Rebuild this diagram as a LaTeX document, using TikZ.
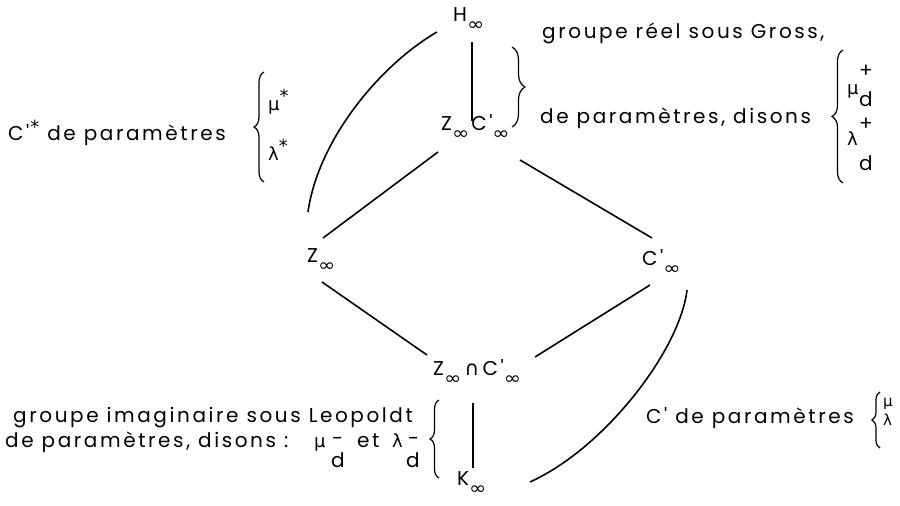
\documentclass[tikz,border=0pt]{standalone}
\usepackage{fontspec}
\usepackage{graphicx}
\usetikzlibrary{decorations.pathreplacing,calc}
\newfontfamily\tw{Poppins}[LetterSpace=13]
\newfontfamily\grk{DejaVu Sans}
\newcommand\pr{'}
\newcommand\isub{\raisebox{-0.45em}{\grk\fontsize{18}{18}\selectfont\scalebox{1.15}[1]{∞}}}
\newcommand\gsm[1]{{\grk\fontsize{18}{18}\selectfont #1}}
\newcommand\gxs[1]{{\grk\fontsize{15}{15}\selectfont #1}}
\begin{document}
\begin{tikzpicture}[x=1pt,y=-1pt,
  lab/.style={font=\tw\fontsize{20}{22}\selectfont, inner sep=0pt, anchor=base west},
  edge/.style={line width=1.6pt},
  brc/.style={line width=1.2pt, decorate, decoration={brace, amplitude=#1}}]
\useasboundingbox (0,0) rectangle (900,506);
% lattice nodes
\node[lab] (H) at (453,21) {H\isub};
\node[lab] (ZC) at (441,130) {Z\isub\hspace{2pt}C\pr\isub};
\node[lab] (Z) at (307,262) {Z\isub};
\node[lab] (C) at (642,265) {C\pr\isub};
\node[lab] (ZnC) at (433,375) {Z\isub\,{\grk\fontsize{20}{20}\selectfont ∩}\,C\pr\isub};
\node[lab] (K) at (457,485) {K\isub};
% edges
\draw[edge] ($(H.base west)+(19,21)$) -- ($(ZC.base west)+(31,-9)$);
\draw[edge] ($(H.base west)+(-16,11)$) .. controls (380,65) and (318,140) .. ($(Z.base west)+(1,-50)$);
\draw[edge] ($(ZC.base west)+(-3,22)$) -- ($(Z.base west)+(16,-24)$);
\draw[edge] ($(ZC.base west)+(79,30)$) -- ($(C.base west)+(10,-27)$);
\draw[edge] ($(Z.base west)+(15,20)$) -- ($(ZnC.base west)+(-6,-20)$);
\draw[edge] ($(C.base west)+(8,20)$) -- ($(ZnC.base west)+(102,-18)$);
\draw[edge] ($(ZnC.base west)+(40,28)$) -- ($(K.base west)+(16,-17)$);
\draw[edge] ($(C.base west)+(45,25)$) .. controls (680,350) and (605,448) .. ($(K.base west)+(73,-3)$);
% left annotation
\node[lab] (t1) at (8,140) {C\pr\hspace{1pt}\raisebox{0.35em}{\gsm{*}} de paramètres};
\draw[brc=10] (264,182) -- (264,72);
\node[lab] (mus) at (268,110) {\gsm{μ}\raisebox{0.4em}{\gsm{*}}};
\node[lab] (las) at (268,160) {\gsm{λ}\raisebox{0.4em}{\gsm{*}}};
% top right annotation
\node[lab] (g1) at (542,38) {groupe réel sous Gross,};
\node[lab] (g2) at (540,123) {de paramètres, disons};
\draw[brc=13] (512,47) -- (512,127);
\draw[brc=11] (843,183) -- (843,50);
\node[lab] (mup) at (847,94) {\gsm{μ}};
\node[lab] (dp1) at (859,106) {d};
\node[lab] (pp1) at (859,77) {+};
\node[lab] (lap) at (847,145) {\gsm{λ}};
\node[lab] (dp2) at (859,170) {d};
\node[lab] (pp2) at (859,130) {+};
% bottom left annotation
\node[lab] (g3) at (13,422) {groupe imaginaire sous Leopoldt};
\node[lab] (g4) at (5,447) {de paramètres, disons :};
\node[lab] (mum) at (314,447) {\gsm{μ}};
\node[lab] (mm1) at (332,445) {-};
\node[lab] (dm1) at (331,467) {d};
\node[lab] (et) at (357,447) {et};
\node[lab] (lam) at (392,447) {\gsm{λ}};
\node[lab] (mm2) at (408,445) {-};
\node[lab] (dm2) at (406,467) {d};
\draw[brc=9] (439,478) -- (439,400);
% bottom right annotation
\node[lab] (t5) at (646,423) {C\pr\ de paramètres};
\draw[brc=8] (880,448) -- (880,392);
\node[lab] (mu) at (883,406) {\gxs{μ}};
\node[lab] (la) at (883,425) {\gxs{λ}};
\end{tikzpicture}
\end{document}
